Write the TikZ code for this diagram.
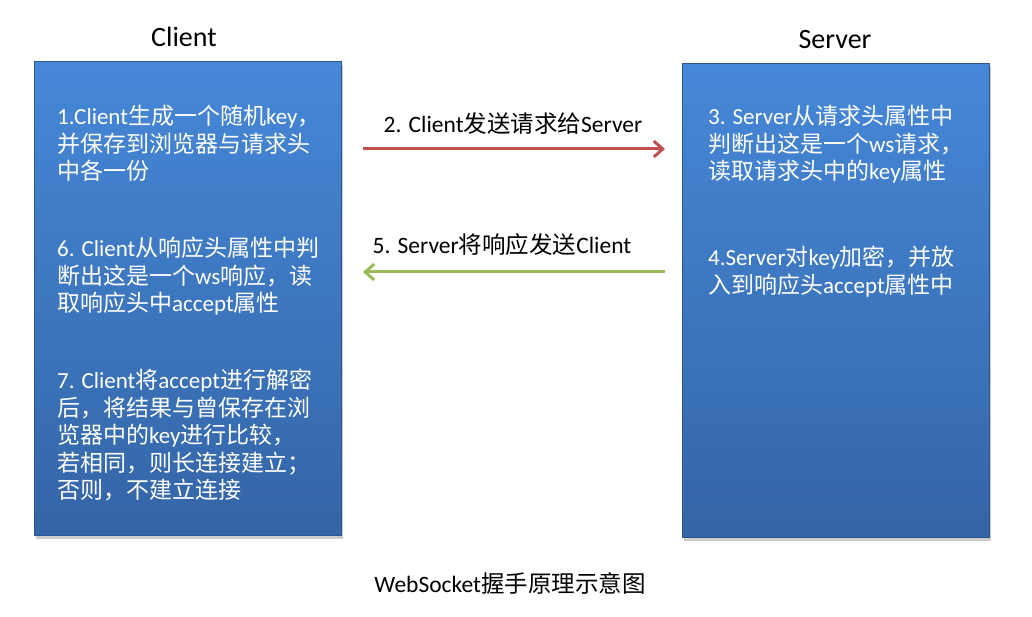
\documentclass[tikz,border=0pt]{standalone}
\usepackage{fontspec}
\setmainfont{Noto Sans CJK SC}
\newfontfamily\lat{Carlito}
\usetikzlibrary{arrows.meta,shadows}
\definecolor{boxtop}{RGB}{70,136,216}
\definecolor{boxbot}{RGB}{52,101,166}
\definecolor{reqred}{RGB}{192,80,77}
\definecolor{resgreen}{RGB}{155,187,89}
\newcommand{\en}[1]{{\lat #1}}
\begin{document}
\begin{tikzpicture}
        [
        x=1pt, y=-1pt,
        panel/.style={draw=boxbot!85!black, line width=0.6pt, top color=boxtop, bottom color=boxbot,
                      minimum width=307pt, minimum height=474pt, anchor=north west,
                      drop shadow={opacity=0.4, shadow xshift=2pt, shadow yshift=-4pt}},
        title/.style={font=\lat\fontsize{28}{34}\selectfont},
        note/.style={anchor=north west, inner sep=0pt, align=left, text=white,
                     font=\fontsize{23}{27.5}\selectfont},
        msg/.style={font=\fontsize{23.5}{28}\selectfont},
        flow/.style={line width=3pt, -{Straight Barb[length=9pt,width=16pt,line width=3pt]}},
        ]
        \useasboundingbox (0,0) rectangle (1032,617);
        % the two sides
        \node[title] (clienttitle) at (184,37) {Client};
        \node[title] (servertitle) at (835,40) {Server};
        \node[panel] (client) at (34,61) {};
        \node[panel] (server) at (682,63) {};
        % client steps
        \node[note] (step1) at (57,105) {\en{1.Client}生成一个随机\en{key}，\\并保存到浏览器与请求头\\中各一份};
        \node[note] (step6) at (57,237) {\en{6. Client}从响应头属性中判\\断出这是一个\en{ws}响应，读\\取响应头中\en{accept}属性};
        \node[note] (step7) at (57,369) {\en{7. Client}将\en{accept}进行解密\\后，将结果与曾保存在浏\\览器中的\en{key}进行比较，\\若相同，则长连接建立；\\否则，不建立连接};
        % server steps
        \node[note] (step3) at (708,105) {\en{3. Server}从请求头属性中\\判断出这是一个\en{ws}请求，\\读取请求头中的\en{key}属性};
        \node[note] (step4) at (708,246) {\en{4.Server}对\en{key}加密，并放\\入到响应头\en{accept}属性中};
        % messages
        \coordinate (reqL) at (363,149);
        \coordinate (reqR) at (665,149);
        \coordinate (resR) at (665,272);
        \coordinate (resL) at (363,272);
        \node[msg] (req) at (513,124) {\en{2. Client}发送请求给\en{Server}};
        \node[msg] (res) at (502,245) {\en{5. Server}将响应发送\en{Client}};
        \draw[flow, reqred] (reqL) -- (reqR);
        \draw[flow, resgreen] (resR) -- (resL);
        \node[msg] (caption) at (510,583) {\en{WebSocket}握手原理示意图};
\end{tikzpicture}
\end{document}
